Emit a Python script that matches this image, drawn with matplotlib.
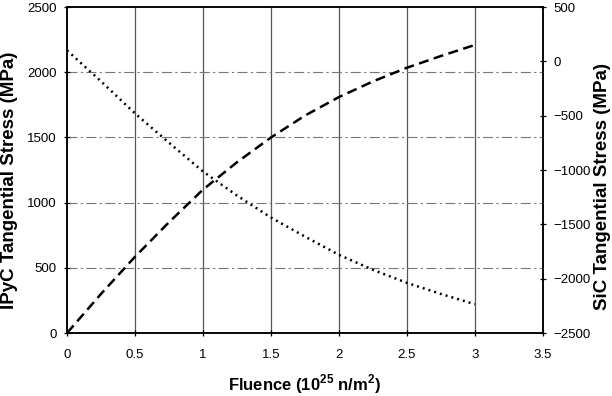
import numpy as np
import matplotlib
matplotlib.use('Agg')
import matplotlib.pyplot as plt

plt.rcParams['font.family'] = 'Liberation Sans'
plt.rcParams['mathtext.fontset'] = 'custom'
plt.rcParams['mathtext.rm'] = 'Liberation Sans:bold'
plt.rcParams['mathtext.bf'] = 'Liberation Sans:bold'

# data
fluence = [0, 0.25, 0.5, 0.75, 1.0, 1.25, 1.5, 1.75, 2.0, 2.25, 2.5, 2.75, 3.0]
ipyc_stress = [0, 300, 585, 850, 1100, 1310, 1500, 1668, 1810, 1930, 2035, 2125, 2210]
sic_stress = [102, -183, -478, -748, -1013, -1234, -1437, -1612, -1780, -1918, -2038, -2140, -2235]

xticks = [0, 0.5, 1, 1.5, 2, 2.5, 3, 3.5]
xtick_labels = ['0', '0.5', '1', '1.5', '2', '2.5', '3', '3.5']

fig = plt.figure(figsize=(6.12, 3.96), dpi=100)
ax = fig.add_axes([0.1095, 0.159, 0.7775, 0.823])
ax2 = ax.twinx()

# grid
for xv in xticks[1:-1]:
    ax.axvline(xv, color='#555555', lw=0.9, zorder=1)
for yv in [500, 1000, 1500, 2000]:
    ax.axhline(yv, color='#777777', lw=0.8, ls=(0, (9, 3, 2, 3)), zorder=1)

ax.plot(fluence, ipyc_stress, color='black', lw=1.8, ls=(0, (4, 2.2)), zorder=3)
ax2.plot(fluence, sic_stress, color='black', lw=1.8, ls=(0, (0.8, 1.6)), zorder=3)

ax.set_xlim(0, 3.5)
ax.set_ylim(0, 2500)
ax2.set_ylim(-2500, 500)
ax.set_xticks(xticks)
ax.set_xticklabels(xtick_labels)
ax.set_yticks(np.arange(0, 2501, 500))
ax2.set_yticks(np.arange(-2500, 501, 500))

for a in (ax, ax2):
    a.tick_params(direction='inout', length=5, width=0.9, labelsize=9.5, pad=5)
    for s in a.spines.values():
        s.set_linewidth(1.1)
ax.tick_params(axis='x', pad=9)

ax.set_xlabel('Fluence (10$^{25}$ n/m$^{2}$)', fontsize=12, fontweight='bold', labelpad=8)
ax.set_ylabel('IPyC Tangential Stress (MPa)', fontsize=13.5, fontweight='bold')
ax2.set_ylabel('SiC Tangential Stress (MPa)', fontsize=13.5, fontweight='bold')
ax.yaxis.set_label_coords(-0.103, 0.47)
ax2.yaxis.set_label_coords(1.107, 0.45)

fig.savefig('out.png', dpi=100)
